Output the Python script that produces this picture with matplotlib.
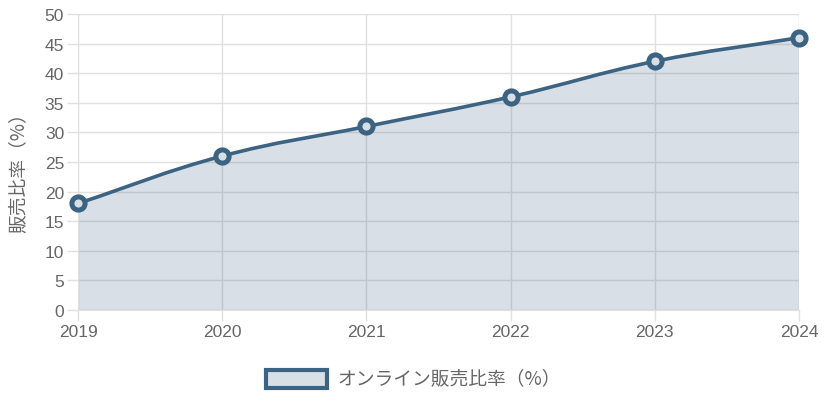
import numpy as np
import matplotlib
matplotlib.use("Agg")
import matplotlib.pyplot as plt
from matplotlib.path import Path
from matplotlib.patches import PathPatch, Rectangle

years = [2019, 2020, 2021, 2022, 2023, 2024]
share = [18, 26, 31, 36, 42, 46]
series_label = "オンライン販売比率（%）"
y_label = "販売比率（%）"

plt.rcParams['font.family'] = ['Liberation Sans', 'Noto Sans CJK JP', 'DejaVu Sans']

LINE = '#3d6383'
FILL = (61/255, 99/255, 131/255, 0.2)
FILL_SOLID = '#d8e0e6'
GRID = '#e0e0e0'
TXT = '#666666'

W, H = 825, 406
fig = plt.figure(figsize=(W/100, H/100), dpi=100)
L, R, T, B = 78, 799, 15, 311
ax = fig.add_axes([L/W, 1-B/H, (R-L)/W, (B-T)/H])
ax.set_xlim(0, len(years)-1)
ax.set_ylim(0, 50)

x = np.arange(len(years), dtype=float)
y = np.array(share, dtype=float)

# Chart.js-like bezier spline (computed in pixel space)
sx = (R-L)/(len(years)-1)
sy = (B-T)/50.0
px = x*sx
py = y*sy
tension = 0.4
verts = [(x[0], y[0])]
codes = [Path.MOVETO]
cps = []
n = len(x)
for i in range(n):
    prev = i-1 if i > 0 else i
    nxt = i+1 if i < n-1 else i
    d01 = np.hypot(px[i]-px[prev], py[i]-py[prev])
    d12 = np.hypot(px[nxt]-px[i], py[nxt]-py[i])
    tot = d01 + d12
    s01 = d01/tot if tot else 0
    s12 = d12/tot if tot else 0
    fa = tension*s01
    fb = tension*s12
    c1 = (px[i]-fa*(px[nxt]-px[prev]), py[i]-fa*(py[nxt]-py[prev]))
    c2 = (px[i]+fb*(px[nxt]-px[prev]), py[i]+fb*(py[nxt]-py[prev]))
    cps.append((c1, c2))
for i in range(n-1):
    a = cps[i][1]
    b = cps[i+1][0]
    verts += [(a[0]/sx, a[1]/sy), (b[0]/sx, b[1]/sy), (x[i+1], y[i+1])]
    codes += [Path.CURVE4]*3
line_path = Path(verts, codes)
fill_verts = verts + [(x[-1], 0), (x[0], 0), (x[0], y[0])]
fill_codes = codes + [Path.LINETO, Path.LINETO, Path.CLOSEPOLY]
ax.add_patch(PathPatch(Path(fill_verts, fill_codes), facecolor=FILL, edgecolor='none', zorder=1))
ax.add_patch(PathPatch(line_path, facecolor='none', edgecolor=LINE, lw=2.6, zorder=3, capstyle='round'))
ax.plot(x, y, 'o', ms=9.5, mfc=FILL_SOLID, mec=LINE, mew=3.6, zorder=4, clip_on=False)

ax.set_xticks(x)
ax.set_xticklabels([str(v) for v in years])
ax.set_yticks(np.arange(0, 51, 5))
ax.grid(True, color=GRID, lw=1, zorder=0)
ax.set_axisbelow(True)
for s in ax.spines.values():
    s.set_visible(False)
ax.tick_params(axis='both', colors=GRID, labelcolor=TXT, labelsize=12.5, length=8, width=1)
ax.tick_params(axis='x', pad=2)
ax.tick_params(axis='y', pad=2)
ax.spines['left'].set_visible(True)
ax.spines['left'].set_color(GRID)
ax.spines['bottom'].set_visible(True)
ax.spines['bottom'].set_color(GRID)

fig.text(18/W, 1-168/H, y_label, rotation=90, ha='center', va='center', color=TXT, fontsize=13.5,
         family=['Noto Sans CJK JP', 'DejaVu Sans'])

# legend
fig.patches.append(Rectangle((266/W, 1-389/H), 61/W, 18/H, transform=fig.transFigure,
                             facecolor=FILL_SOLID, edgecolor=LINE, lw=3))
fig.text(337/W, 1-379/H, series_label, ha='left', va='center', color=TXT, fontsize=13.5,
         family=['Noto Sans CJK JP', 'DejaVu Sans'])

fig.savefig('out.png', dpi=100)
